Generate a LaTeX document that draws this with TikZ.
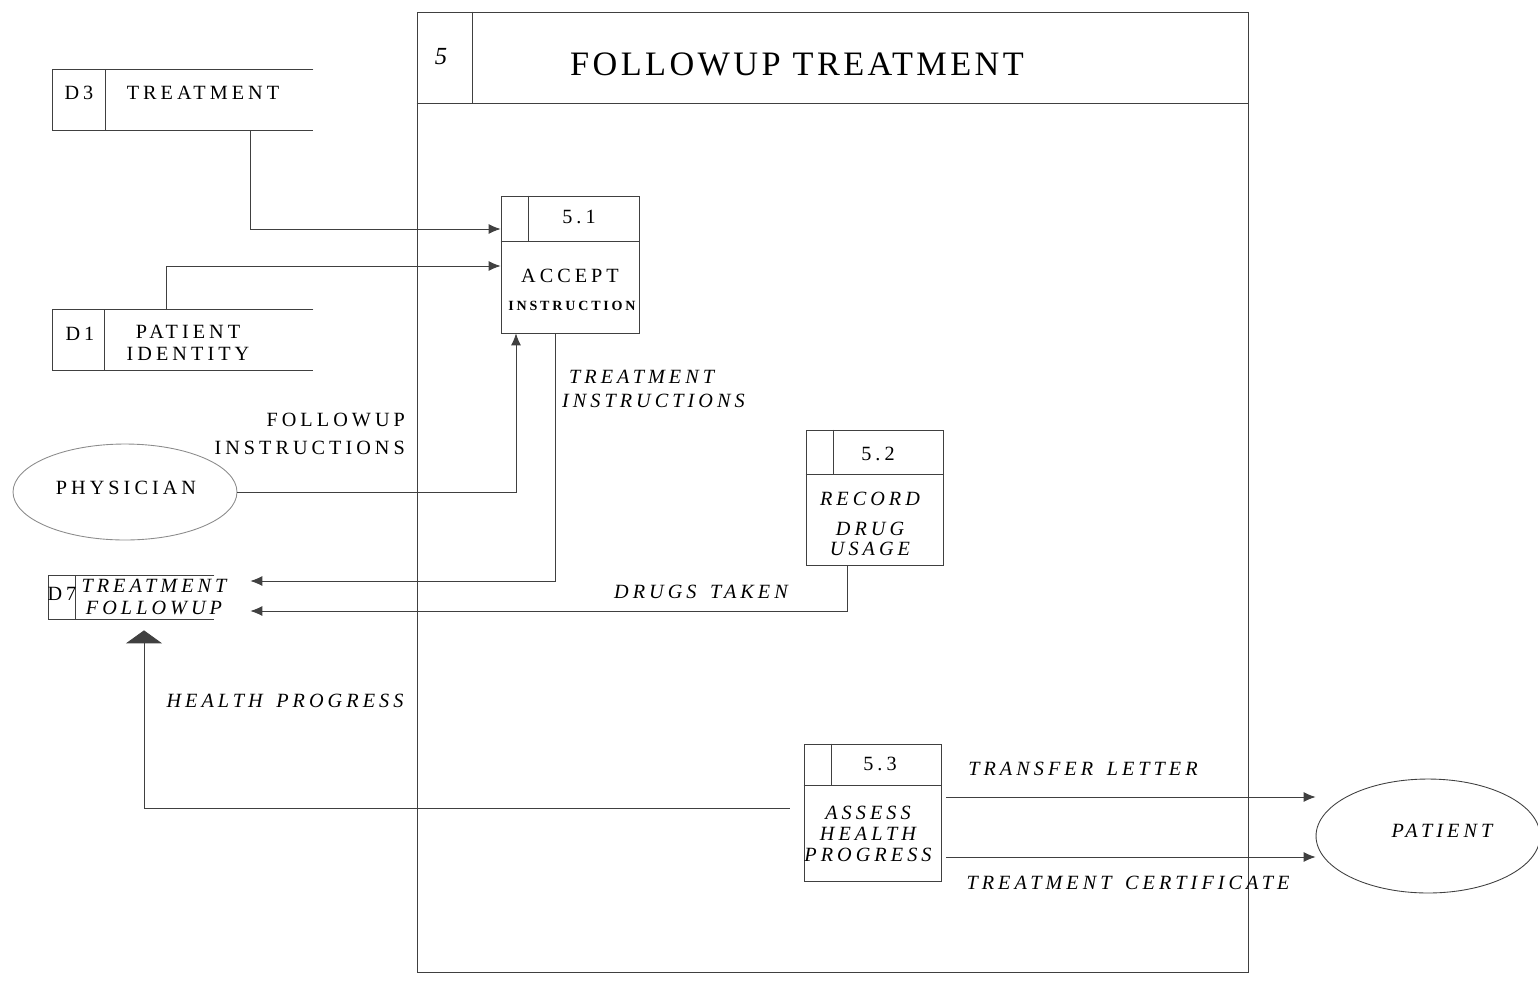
\documentclass[tikz,border=0pt]{standalone}
\usepackage{fontspec}
\setmainfont{Liberation Serif}
\newfontfamily\dfdfont[LetterSpace=20,WordSpace=1.5]{Liberation Serif}
\newfontfamily\dfdtitle[LetterSpace=10]{Liberation Serif}
\usetikzlibrary{shapes.geometric,arrows.meta}

\tikzset{
  line/.style={draw=black!75, line width=0.5pt},
  flow/.style={line, -{Latex[length=0.24cm,width=0.2cm]}},
  proc/.style={line, rectangle, inner sep=0pt},
  store/.style={rectangle, inner sep=0pt},
  entity/.style={line, ellipse, inner sep=0pt},
  txt/.style={font=\dfdfont\fontsize{11.5}{13}\selectfont, inner sep=1pt},
  itxt/.style={font=\dfdfont\itshape\fontsize{11.5}{13}\selectfont, inner sep=1pt},
}

\begin{document}
\begin{tikzpicture}[x=0.02cm, y=-0.02cm]
    \useasboundingbox (0,0) rectangle (1538,981);

    % Draw the process frame
    \node[proc, minimum width=16.64cm, minimum height=19.22cm] (proc5) at (833,492.5) {};
    \draw[line] ([yshift=-1.84cm]proc5.north west) -- ([yshift=-1.84cm]proc5.north east);
    \draw[line] ([xshift=1.12cm]proc5.north west) -- ([xshift=1.12cm,yshift=-1.84cm]proc5.north west);
    \node[font=\itshape\fontsize{14}{16}\selectfont] (num5) at (441,57) {5};
    \node[font=\dfdtitle\fontsize{19.5}{22}\selectfont] (title) at (797,64) {FOLLOWUP TREATMENT};

    % Draw the data stores
    \node[store, minimum width=5.2cm, minimum height=1.2cm] (d3) at (183,100) {};
    \draw[line] (d3.north east) -- (d3.north west) -- (d3.south west) -- (d3.south east);
    \draw[line] ([xshift=1.06cm]d3.north west) -- ([xshift=1.06cm]d3.south west);
    \node[txt] (d3id) at (79,93) {D3};
    \node[txt] (d3name) at (203,93) {TREATMENT};

    \node[store, minimum width=5.2cm, minimum height=1.2cm] (d1) at (183,340) {};
    \draw[line] (d1.north east) -- (d1.north west) -- (d1.south west) -- (d1.south east);
    \draw[line] ([xshift=1.04cm]d1.north west) -- ([xshift=1.04cm]d1.south west);
    \node[txt] (d1id) at (80,334) {D1};
    \node[txt, align=center, font=\dfdfont\fontsize{11.5}{12.5}\selectfont] (d1name) at (188,343) {PATIENT\\ IDENTITY};

    \node[store, minimum width=3.3cm, minimum height=0.86cm] (d7) at (131.5,597.5) {};
    \draw[line] (d7.north east) -- (d7.north west) -- (d7.south west) -- (d7.south east);
    \draw[line] ([xshift=0.54cm]d7.north west) -- ([xshift=0.54cm]d7.south west);
    \node[txt] (d7id) at (62,594) {D7};
    \node[itxt, align=center, font=\dfdfont\itshape\fontsize{11.5}{12}\selectfont] (d7name) at (154,597) {TREATMENT\\ FOLLOWUP};

    % Draw the processes
    \node[proc, minimum width=2.76cm, minimum height=2.74cm] (p51) at (570,264.5) {};
    \draw[line] ([yshift=-0.92cm]p51.north west) -- ([yshift=-0.92cm]p51.north east);
    \draw[line] ([xshift=0.56cm]p51.north west) -- ([xshift=0.56cm,yshift=-0.92cm]p51.north west);
    \node[txt] (p51id) at (579,217) {5.1};
    \node[txt] (p51name) at (570,276) {ACCEPT};
    \node[font=\dfdfont\bfseries\fontsize{8}{10}\selectfont, inner sep=0pt] (p51sub) at (572,306) {INSTRUCTION};

    \node[proc, minimum width=2.74cm, minimum height=2.7cm] (p52) at (874.5,497.5) {};
    \draw[line] ([yshift=-0.9cm]p52.north west) -- ([yshift=-0.9cm]p52.north east);
    \draw[line] ([xshift=0.56cm]p52.north west) -- ([xshift=0.56cm,yshift=-0.9cm]p52.north west);
    \node[txt] (p52id) at (878,454) {5.2};
    \node[itxt] (p52name) at (870,499) {RECORD};
    \node[itxt, align=center, font=\dfdfont\itshape\fontsize{11.5}{11.5}\selectfont] (p52sub) at (870,539) {DRUG\\ USAGE};

    \node[proc, minimum width=2.74cm, minimum height=2.74cm] (p53) at (872.5,812.5) {};
    \draw[line] ([yshift=-0.84cm]p53.north west) -- ([yshift=-0.84cm]p53.north east);
    \draw[line] ([xshift=0.56cm]p53.north west) -- ([xshift=0.56cm,yshift=-0.84cm]p53.north west);
    \node[txt] (p53id) at (880,764) {5.3};
    \node[itxt, align=center, font=\dfdfont\itshape\fontsize{11.5}{12}\selectfont] (p53name) at (868,834) {ASSESS\\ HEALTH\\ PROGRESS};

    % Draw the external entities
    \node[entity, draw=black!45, minimum width=4.48cm, minimum height=1.92cm] (phys) at (125,492) {};
    \node[txt] (physname) at (126,488) {PHYSICIAN};
    \node[entity, minimum width=4.48cm, minimum height=2.28cm] (pat) at (1428,836) {};
    \node[itxt] (patname) at (1442,831) {PATIENT};

    % Draw the data flows
    \draw[flow] (d3.south -| 250,0) |- (p51.west |- 0,229);
    \draw[flow] (d1.north -| 166,0) |- (p51.west |- 0,266);
    \draw[flow] (phys.east) -| (p51.south -| 516,0);
    \draw[flow, shorten >=0.72cm] (p51.south -| 555,0) |- (d7.east |- 0,581);
    \draw[flow, shorten >=0.72cm] (p52.south -| 847,0) |- (d7.east |- 0,611);
    \draw[line, -{Triangle[length=0.26cm,width=0.72cm]}, shorten <=0.28cm, shorten >=0.22cm] (p53.west |- 0,808) -| (d7.south -| 144,0);
    \draw[flow, shorten <=0.1cm] (p53.east |- 0,797) -- (pat.west |- 0,797);
    \draw[flow, shorten <=0.1cm] (p53.east |- 0,857) -- (pat.west |- 0,857);

    % Flow labels
    \node[txt, align=right, font=\dfdfont\fontsize{11.5}{16}\selectfont, anchor=east] (lblfollow) at (407,434) {FOLLOWUP\\ INSTRUCTIONS};
    \node[itxt, align=left, font=\dfdfont\itshape\fontsize{11.5}{14}\selectfont, anchor=west] (lblinstr) at (560,389) {\hspace{4pt}TREATMENT\\ INSTRUCTIONS};
    \node[itxt] (lbldrugs) at (701,592) {DRUGS TAKEN};
    \node[itxt] (lblhealth) at (285,701) {HEALTH PROGRESS};
    \node[itxt] (lbltransfer) at (1083,769) {TRANSFER LETTER};
    \node[itxt] (lblcert) at (1128,883) {TREATMENT CERTIFICATE};

\end{tikzpicture}
\end{document}
